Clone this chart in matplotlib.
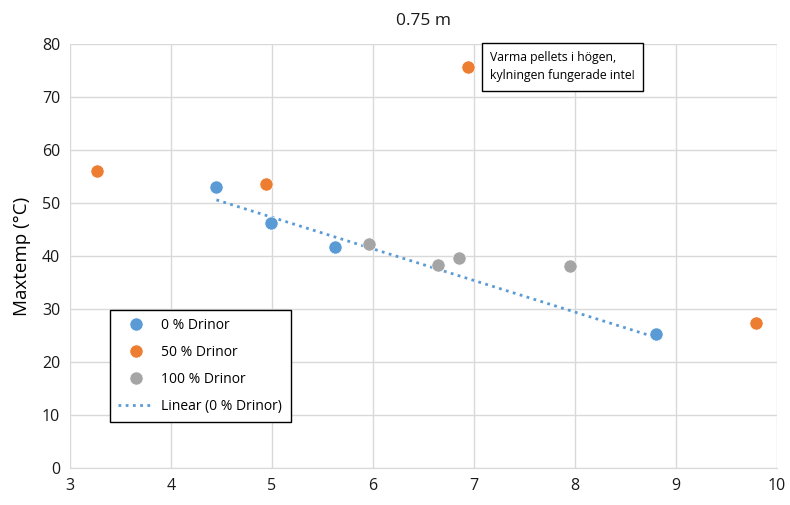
import numpy as np
import matplotlib
matplotlib.use("Agg")
import matplotlib.pyplot as plt

plt.rcParams['font.family'] = ['Open Sans', 'DejaVu Sans']

x0 = [4.45, 4.99, 5.62, 8.80]
y0 = [53.0, 46.2, 41.7, 25.3]
x50 = [3.27, 4.94, 6.94, 9.79]
y50 = [56.0, 53.6, 75.7, 27.4]
x100 = [5.96, 6.64, 6.85, 7.95]
y100 = [42.3, 38.3, 39.6, 38.1]

labels = ["0 % Drinor", "50 % Drinor", "100 % Drinor", "Linear (0 % Drinor)"]
title = "0.75 m"
ylabel = "Maxtemp (°C)"
note = "Varma pellets i högen,\nkylningen fungerade inte!"

fig = plt.figure(figsize=(7.9, 5.05), dpi=100)
ax = fig.add_axes([0.0886, 0.0733, 0.8949, 0.8396])

ms = 9.5
ax.plot(x0, y0, 'o', color='#5B9BD5', ms=ms, mec='white', mew=0.5, label=labels[0], zorder=3)
ax.plot(x50, y50, 'o', color='#ED7D31', ms=ms, mec='white', mew=0.5, label=labels[1], zorder=3)
ax.plot(x100, y100, 'o', color='#A5A5A5', ms=ms, mec='white', mew=0.5, label=labels[2], zorder=3)

coef = np.polyfit(x0, y0, 1)
xl = np.array([min(x0), max(x0)])
ax.plot(xl, np.polyval(coef, xl), linestyle=(0, (1, 1.6)), color='#5B9BD5', lw=2, label=labels[3], zorder=2)

ax.set_xlim(3, 10)
ax.set_ylim(0, 80)
ax.set_xticks(range(3, 11))
ax.set_yticks(range(0, 81, 10))
ax.grid(True, color='#D9D9D9', lw=1)
ax.set_axisbelow(True)
for s in ['top', 'right', 'left']:
    ax.spines[s].set_visible(False)
ax.spines['bottom'].set_color('#D9D9D9')
ax.tick_params(length=0, labelsize=11.5, colors='#1a1a1a', pad=7)
ax.set_title(title, fontsize=12.5, color='#1a1a1a', pad=14)
ax.set_ylabel(ylabel, fontsize=13.5, color='black', labelpad=8)

leg = ax.legend(loc='upper left', bbox_to_anchor=(0.0566, 0.3726), fontsize=10,
                frameon=True, fancybox=False, edgecolor='black', borderpad=0.6,
                borderaxespad=0,
                handlelength=2.6, labelspacing=0.85, handletextpad=0.5, framealpha=1)
leg.get_frame().set_linewidth(1)

ax.text(7.16, 75.7, note, fontsize=8.8, color='black', va='center', ha='left',
        linespacing=1.5,
        bbox=dict(boxstyle='square,pad=0.7', fc='white', ec='black', lw=1), zorder=4)

fig.savefig("out.png", dpi=100)
